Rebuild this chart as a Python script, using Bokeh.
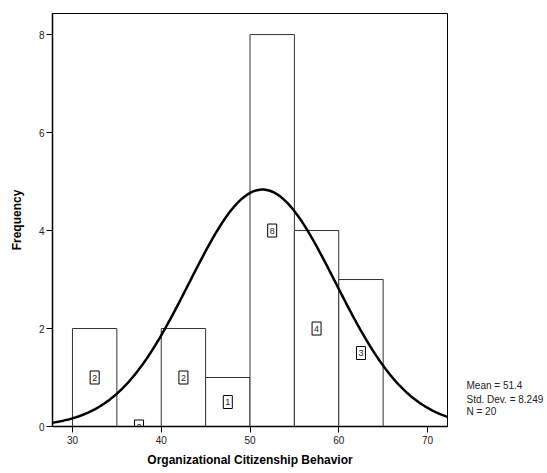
import numpy as np
from bokeh.plotting import figure
from bokeh.models import Range1d, FixedTicker, LinearAxis, ColumnDataSource
from bokeh.core.properties import value
from bokeh.embed import file_html
from bokeh.resources import INLINE

# ---- data ----
bin_left = [30, 35, 40, 45, 50, 55, 60]
bin_right = [35, 40, 45, 50, 55, 60, 65]
counts = [2, 0, 2, 1, 8, 4, 3]
stat_mean = 51.4
stat_sd = 8.249
stat_n = 20
bin_width = 5
x_ticks = [30, 40, 50, 60, 70]
y_ticks = [0, 2, 4, 6, 8]
x_title = "Organizational Citizenship Behavior"
y_title = "Frequency"
stat_lines = ["Mean = 51.4", "Std. Dev. = 8.249", "N = 20"]

FONT = "Liberation Sans"

p = figure(width=547, height=473, output_backend="svg", toolbar_location=None,
           x_range=Range1d(27.75, 72.25), y_range=Range1d(0, 8.43),
           min_border_left=52, min_border_right=100, min_border_top=13,
           min_border_bottom=47)
p.grid.visible = False
p.outline_line_color = "black"
p.outline_line_width = 1
p.background_fill_color = "white"
p.border_fill_color = "white"

# bars
src = ColumnDataSource(dict(left=bin_left, right=bin_right, top=counts,
                            bottom=[0] * len(counts)))
p.quad(left="left", right="right", top="top", bottom="bottom", source=src,
       fill_color="white", line_color="#333333", line_width=1)

# normal curve
xs = np.linspace(27.75, 72.25, 300)
ys = stat_n * bin_width * np.exp(-0.5 * ((xs - stat_mean) / stat_sd) ** 2) / (stat_sd * np.sqrt(2 * np.pi))
p.line(xs, ys, line_color="black", line_width=2.5)

# boxed count labels
centers = [(l + r) / 2 for l, r in zip(bin_left, bin_right)]
mids = [c / 2 for c in counts]
lab = ColumnDataSource(dict(x=centers, y=mids, t=[str(c) for c in counts]))
p.rect(x="x", y="y", width=9, height=13, width_units="screen", height_units="screen",
       source=lab, fill_color="white", line_color="black", line_width=1)
p.text(x="x", y="y", text="t", source=lab, text_font=value(FONT),
       text_font_size="9px", text_align="center", text_baseline="middle",
       text_color="#222222")

# axes
for ax in (p.xaxis[0], p.yaxis[0]):
    ax.axis_line_color = "black"
    ax.axis_line_width = 1.5
    ax.major_tick_line_color = "black"
    ax.major_tick_out = 6
    ax.major_tick_in = 0
    ax.minor_tick_line_color = None
    ax.major_label_text_font = FONT
    ax.major_label_text_font_size = "10px"
    ax.major_label_text_color = "#222222"
    ax.axis_label_text_font = FONT
    ax.axis_label_text_font_size = "12px"
    ax.axis_label_text_font_style = "bold"
    ax.axis_label_text_color = "black"

p.xaxis[0].ticker = FixedTicker(ticks=x_ticks)
p.yaxis[0].ticker = FixedTicker(ticks=y_ticks)
p.xaxis[0].axis_label = x_title
p.yaxis[0].axis_label = y_title
p.xaxis[0].major_label_standoff = 3
p.xaxis[0].axis_label_standoff = 6
p.yaxis[0].major_label_standoff = 2
p.yaxis[0].axis_label_standoff = 12
p.yaxis[0].major_label_orientation = "horizontal"

# stats text: rendered as labels of a bare axis on the right side
stat_pos = [0.827, 0.561, 0.306]
stat_axis = LinearAxis(ticker=FixedTicker(ticks=stat_pos),
                       major_label_overrides={v: t for v, t in zip(stat_pos, stat_lines)},
                       axis_line_color=None, major_tick_line_color=None,
                       minor_tick_line_color=None, major_tick_out=0, major_tick_in=0,
                       major_label_standoff=19,
                       major_label_text_font=FONT, major_label_text_font_size="10px",
                       major_label_text_color="#222222")
p.add_layout(stat_axis, "right")

open("out.html", "w").write(file_html(p, INLINE))
